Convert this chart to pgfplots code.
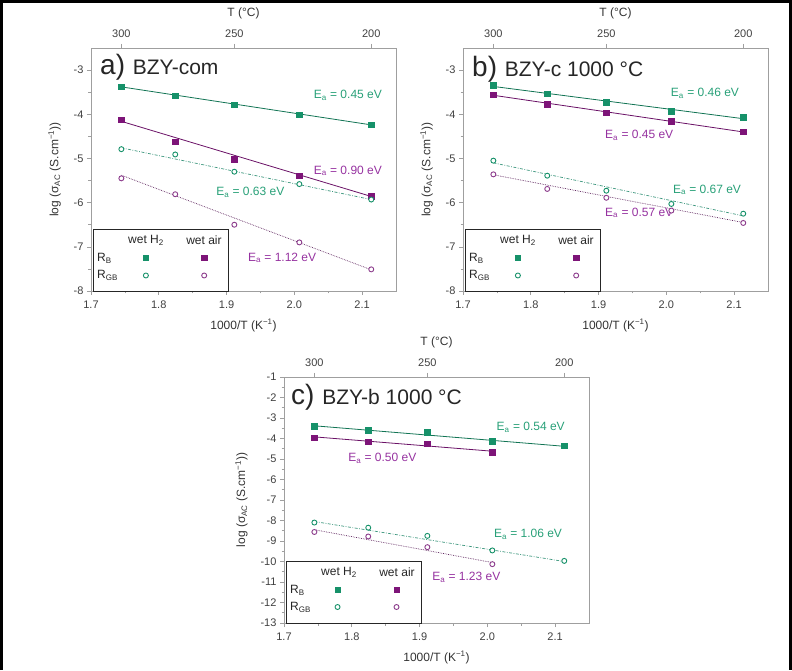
\documentclass[border=0pt]{standalone}
\usepackage{fontspec}
\setmainfont{Liberation Sans}
\usepackage{pgfplots}
\pgfplotsset{compat=1.18}
\definecolor{cg}{RGB}{22,145,105}
\definecolor{cp}{RGB}{125,20,120}
\definecolor{tg}{RGB}{40,160,120}
\definecolor{tp}{RGB}{150,50,160}
\definecolor{lg}{RGB}{60,150,125}
\definecolor{lp}{RGB}{140,60,140}

\pgfplotsset{
  panel/.style={scale only axis, width=305pt, xmin=1.7, xmax=2.15,
    axis line style={gray!75, line width=0.7pt},
    tick style={gray!75, line width=0.6pt},
    tick align=outside, major tick length=4pt, minor tick length=2.5pt,
    xtick={1.7,1.8,1.9,2.0,2.1}, minor x tick num=1, minor y tick num=1,
    xtick pos=left, ytick pos=left,
    /pgf/number format/assume math mode=true,
    ticklabel style={font=\fontsize{11}{12}\selectfont, text=black!75},
    label style={font=\fontsize{12}{14}\selectfont, text=black!80},
    xlabel={1000/T (K\textsuperscript{−1})},
    ylabel={log (σ\textsubscript{AC} (S.cm\textsuperscript{−1}))},
    xlabel style={yshift=-4pt}, ylabel style={yshift=6pt},
    clip=false,
    xticklabel style={yshift=-2pt, /pgf/number format/.cd, fixed, fixed zerofill, precision=1}},
  toppanel/.style={scale only axis, width=305pt, xmin=1.7, xmax=2.15, ymin=0, ymax=1,
    axis x line*=top, axis y line=none,
    axis line style={gray!75, line width=0.7pt},
    tick style={gray!75, line width=0.6pt},
    tick align=outside, major tick length=4pt,
    /pgf/number format/assume math mode=true,
    ticklabel style={font=\fontsize{11}{12}\selectfont, text=black!75},
    xticklabel style={yshift=3pt},
    label style={font=\fontsize{12}{14}\selectfont, text=black!80},
    xlabel style={yshift=4pt},
    xtick={1.7448,1.9115,2.1135}, xticklabels={300,250,200},
    xlabel={T (°C)}},
  bG/.style={only marks, mark=square*, mark size=2.7pt, color=cg},
  bP/.style={only marks, mark=square*, mark size=2.7pt, color=cp},
  gG/.style={only marks, mark=*, mark size=2.5pt, color=cg, line width=0.9pt, mark options={fill=white}},
  gP/.style={only marks, mark=*, mark size=2.5pt, color=lp, line width=0.9pt, mark options={fill=white}},
  fbG/.style={no marks, color=cg!80!black, line width=0.8pt},
  fbP/.style={no marks, color=cp!85!black, line width=0.8pt},
  fgG/.style={no marks, color=lg, line width=0.7pt, dash pattern=on 3pt off 1.5pt on 0.8pt off 1.5pt},
  fgP/.style={no marks, color=lp!70!black, line width=0.7pt, densely dotted},
}
\newcommand{\ea}[1]{E\textsubscript{a} = #1 eV}
\tikzset{ann/.style={font=\fontsize{12}{14}\selectfont, inner sep=0pt},
  lgt/.style={font=\fontsize{12}{14}\selectfont, inner sep=0pt, text=black!85}}
\newcommand{\legendbox}{%
  \draw[black!85, line width=0.8pt, fill=white] ([shift={(2pt,0pt)}]rel axis cs:0,0) rectangle ([shift={(137pt,62pt)}]rel axis cs:0,0);
  \node[lgt] at ([shift={(55pt,51pt)}]rel axis cs:0,0) {wet H\textsubscript{2}};
  \node[lgt] at ([shift={(113pt,51pt)}]rel axis cs:0,0) {wet air};
  \node[lgt, anchor=west] at ([shift={(6pt,33pt)}]rel axis cs:0,0) {R\textsubscript{B}};
  \node[lgt, anchor=west] at ([shift={(6pt,15.5pt)}]rel axis cs:0,0) {R\textsubscript{GB}};
}

\begin{document}
\begin{tikzpicture}
\useasboundingbox (0,0) rectangle (792pt,670pt);
\draw[line width=3pt] (1.5pt,0pt) -- (1.5pt,668.5pt) -- (790.5pt,668.5pt) -- (790.5pt,0pt);

% ---------------- panel a ----------------
\begin{axis}[panel, at={(91pt,379pt)}, height=243pt, ymin=-8, ymax=-2.5, ytick={-8,-7,-6,-5,-4,-3}]
\addplot[fbG] coordinates {(1.7448,-3.38) (2.1135,-4.24)};
\addplot[fbP] coordinates {(1.7448,-4.16) (2.1135,-5.86)};
\addplot[fgG] coordinates {(1.7448,-4.76) (2.1135,-5.93)};
\addplot[fgP] coordinates {(1.7448,-5.38) (2.1135,-7.52)};
\addplot[bG] coordinates {(1.7448,-3.38) (1.8243,-3.58) (1.9115,-3.78) (2.0074,-4.01) (2.1135,-4.24)};
\addplot[bP] coordinates {(1.7448,-4.12) (1.8243,-4.62) (1.9115,-5.02) (2.0074,-5.39) (2.1135,-5.85)};
\addplot[gG] coordinates {(1.7448,-4.79) (1.8243,-4.91) (1.9115,-5.30) (2.0074,-5.58) (2.1135,-5.93)};
\addplot[gP] coordinates {(1.7448,-5.45) (1.8243,-5.81) (1.9115,-6.50) (2.0074,-6.90) (2.1135,-7.51)};
\legendbox
\addplot[bG] coordinates {(1.781,-7.253)};
\addplot[bP] coordinates {(1.867,-7.253)};
\addplot[gG] coordinates {(1.781,-7.649)};
\addplot[gP] coordinates {(1.867,-7.649)};
\node[ann, text=tg] at (axis cs:2.079,-3.57) {\ea{0.45}};
\node[ann, text=tp] at (axis cs:2.079,-5.28) {\ea{0.90}};
\node[ann, text=tg] at (axis cs:1.935,-5.76) {\ea{0.63}};
\node[ann, text=tp] at (axis cs:1.982,-7.25) {\ea{1.12}};
\node[anchor=base west, inner sep=0pt, text=black!85] at ([shift={(9pt,216pt)}]rel axis cs:0,0) {\fontsize{28}{30}\selectfont a) \fontsize{21}{24}\selectfont BZY-com};
\end{axis}
\begin{axis}[toppanel, at={(91pt,379pt)}, height=243pt]
\end{axis}

% ---------------- panel b ----------------
\begin{axis}[panel, at={(463pt,379pt)}, height=243pt, ymin=-8, ymax=-2.5, ytick={-8,-7,-6,-5,-4,-3}]
\addplot[fbG] coordinates {(1.7448,-3.37) (2.1135,-4.10)};
\addplot[fbP] coordinates {(1.7448,-3.57) (2.1135,-4.40)};
\addplot[fgG] coordinates {(1.7448,-5.10) (2.1135,-6.30)};
\addplot[fgP] coordinates {(1.7448,-5.37) (2.1135,-6.45)};
\addplot[bG] coordinates {(1.7448,-3.34) (1.8243,-3.53) (1.9115,-3.73) (2.0074,-3.93) (2.1135,-4.07)};
\addplot[bP] coordinates {(1.7448,-3.56) (1.8243,-3.77) (1.9115,-3.96) (2.0074,-4.16) (2.1135,-4.40)};
\addplot[gG] coordinates {(1.7448,-5.05) (1.8243,-5.39) (1.9115,-5.73) (2.0074,-6.03) (2.1135,-6.25)};
\addplot[gP] coordinates {(1.7448,-5.36) (1.8243,-5.69) (1.9115,-5.89) (2.0074,-6.18) (2.1135,-6.46)};
\legendbox
\addplot[bG] coordinates {(1.781,-7.253)};
\addplot[bP] coordinates {(1.867,-7.253)};
\addplot[gG] coordinates {(1.781,-7.649)};
\addplot[gP] coordinates {(1.867,-7.649)};
\node[ann, text=tg] at (axis cs:2.057,-3.52) {\ea{0.46}};
\node[ann, text=tp] at (axis cs:1.960,-4.47) {\ea{0.45}};
\node[ann, text=tg] at (axis cs:2.060,-5.71) {\ea{0.67}};
\node[ann, text=tp] at (axis cs:1.960,-6.23) {\ea{0.57}};
\node[anchor=base west, inner sep=0pt, text=black!85] at ([shift={(9pt,214pt)}]rel axis cs:0,0) {\fontsize{28}{30}\selectfont b) \fontsize{21}{24}\selectfont BZY-c 1000 °C};
\end{axis}
\begin{axis}[toppanel, at={(463pt,379pt)}, height=243pt]
\end{axis}

% ---------------- panel c ----------------
\begin{axis}[panel, at={(284pt,47pt)}, height=246pt, ymin=-13, ymax=-1, ytick={-13,-12,...,-1}]
\addplot[fbG] coordinates {(1.7448,-3.38) (2.1135,-4.38)};
\addplot[fbP] coordinates {(1.7448,-3.92) (2.0074,-4.62)};
\addplot[fgG] coordinates {(1.7448,-8.05) (2.1135,-10.00)};
\addplot[fgP] coordinates {(1.7448,-8.45) (2.0074,-10.05)};
\addplot[bG] coordinates {(1.7448,-3.40) (1.8243,-3.59) (1.9115,-3.69) (2.0074,-4.13) (2.1135,-4.36)};
\addplot[bP] coordinates {(1.7448,-3.95) (1.8243,-4.15) (1.9115,-4.26) (2.0074,-4.66)};
\addplot[gG] coordinates {(1.7448,-8.10) (1.8243,-8.35) (1.9115,-8.75) (2.0074,-9.46) (2.1135,-9.97)};
\addplot[gP] coordinates {(1.7448,-8.56) (1.8243,-8.78) (1.9115,-9.30) (2.0074,-10.13)};
\legendbox
\addplot[bG] coordinates {(1.779,-11.39)};
\addplot[bP] coordinates {(1.866,-11.39)};
\addplot[gG] coordinates {(1.779,-12.22)};
\addplot[gP] coordinates {(1.866,-12.22)};
\node[ann, text=tg] at (axis cs:2.064,-3.44) {\ea{0.54}};
\node[ann, text=tp] at (axis cs:1.845,-4.95) {\ea{0.50}};
\node[ann, text=tg] at (axis cs:2.060,-8.66) {\ea{1.06}};
\node[ann, text=tp] at (axis cs:1.969,-10.76) {\ea{1.23}};
\node[anchor=base west, inner sep=0pt, text=black!85] at ([shift={(7pt,219pt)}]rel axis cs:0,0) {\fontsize{28}{30}\selectfont c) \fontsize{21}{24}\selectfont BZY-b 1000 °C};
\end{axis}
\begin{axis}[toppanel, at={(284pt,47pt)}, height=246pt]
\end{axis}
\end{tikzpicture}
\end{document}
